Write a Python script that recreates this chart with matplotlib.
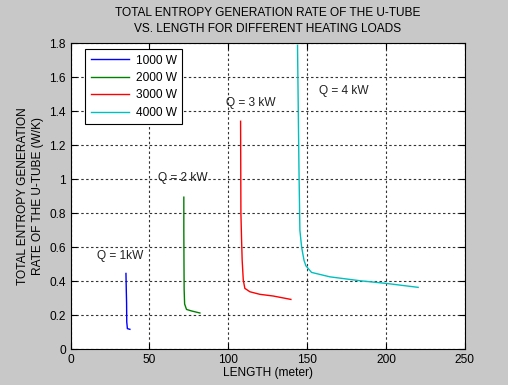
import matplotlib
matplotlib.use("Agg")
import matplotlib.pyplot as plt

# Data
len_1000 = [35.1, 35.3, 35.5, 35.6, 36.0, 37.6]
s_1000 = [0.445, 0.35, 0.27, 0.16, 0.12, 0.116]

len_2000 = [71.8, 71.8, 71.9, 72.0, 72.3, 73.5, 76.7, 82.0]
s_2000 = [0.894, 0.7, 0.5, 0.35, 0.265, 0.233, 0.224, 0.212]

len_3000 = [107.8, 108.0, 108.4, 108.8, 109.5, 110.5, 113.7, 120.0, 128.5, 139.7]
s_3000 = [1.341, 0.80, 0.65, 0.523, 0.406, 0.357, 0.337, 0.322, 0.312, 0.292]

len_4000 = [143.9, 144.8, 145.4, 146.5, 148.0, 149.2, 152.8, 164.4, 183.5, 200.4, 220.4]
s_4000 = [1.788, 1.072, 0.70, 0.60, 0.523, 0.49, 0.451, 0.425, 0.402, 0.386, 0.363]

series_labels = ["1000 W", "2000 W", "3000 W", "4000 W"]
annotations = ["Q = 1kW", "Q = 2 kW", "Q = 3 kW", "Q = 4 kW"]
annot_x = [31.4, 70.9, 114.3, 173.3]
annot_y = [0.546, 1.006, 1.449, 1.518]

xticks = [0, 50, 100, 150, 200, 250]
yticks = [0, 0.2, 0.4, 0.6, 0.8, 1, 1.2, 1.4, 1.6, 1.8]
ytick_labels = ["0", "0.2", "0.4", "0.6", "0.8", "1", "1.2", "1.4", "1.6", "1.8"]

plt.rcParams['font.family'] = ['Liberation Sans', 'DejaVu Sans']
FS = 8.6
plt.rcParams['font.size'] = FS

fig = plt.figure(figsize=(5.08, 3.85), dpi=100, facecolor='#c8c8c8')
ax = fig.add_axes([0.139, 0.0935, 0.776, 0.794])
ax.set_facecolor('white')

colors = ['#0000ff', '#008000', '#ff0000', '#00bfbf']
data = [(len_1000, s_1000), (len_2000, s_2000), (len_3000, s_3000), (len_4000, s_4000)]
for (xs, ys), c, lab in zip(data, colors, series_labels):
    ax.plot(xs, ys, color=c, lw=1.0, label=lab)

for t, x, y in zip(annotations, annot_x, annot_y):
    ax.text(x, y, t, ha='center', va='center', fontsize=FS, color='#222222')

ax.set_xlim(0, 250)
ax.set_ylim(0, 1.8)
ax.set_xticks(xticks)
ax.set_yticks(yticks)
ax.set_yticklabels(ytick_labels)
ax.grid(True, color='#333333', linestyle=(0, (2.2, 2.2)), linewidth=0.8)
ax.tick_params(direction='in', top=True, right=True, length=4, width=0.8, colors='black', labelsize=FS)
for sp in ax.spines.values():
    sp.set_linewidth(0.8)

ax.set_title("TOTAL ENTROPY GENERATION RATE OF THE U-TUBE\nVS. LENGTH FOR DIFFERENT HEATING LOADS",
             fontsize=FS, linespacing=1.45, pad=8)
ax.set_xlabel("LENGTH (meter)", fontsize=FS, labelpad=1)
ax.set_ylabel("TOTAL ENTROPY GENERATION\nRATE OF THE U-TUBE (W/K)", fontsize=FS, linespacing=1.3, labelpad=4)

leg = ax.legend(loc='upper left', bbox_to_anchor=(0.022, 1.0), fancybox=False, framealpha=1,
                edgecolor='black', fontsize=FS, handlelength=3.2, borderpad=0.45, labelspacing=0.45,
                handletextpad=0.6)
leg.get_frame().set_linewidth(0.8)

fig.savefig("out.png", dpi=100, facecolor=fig.get_facecolor())
